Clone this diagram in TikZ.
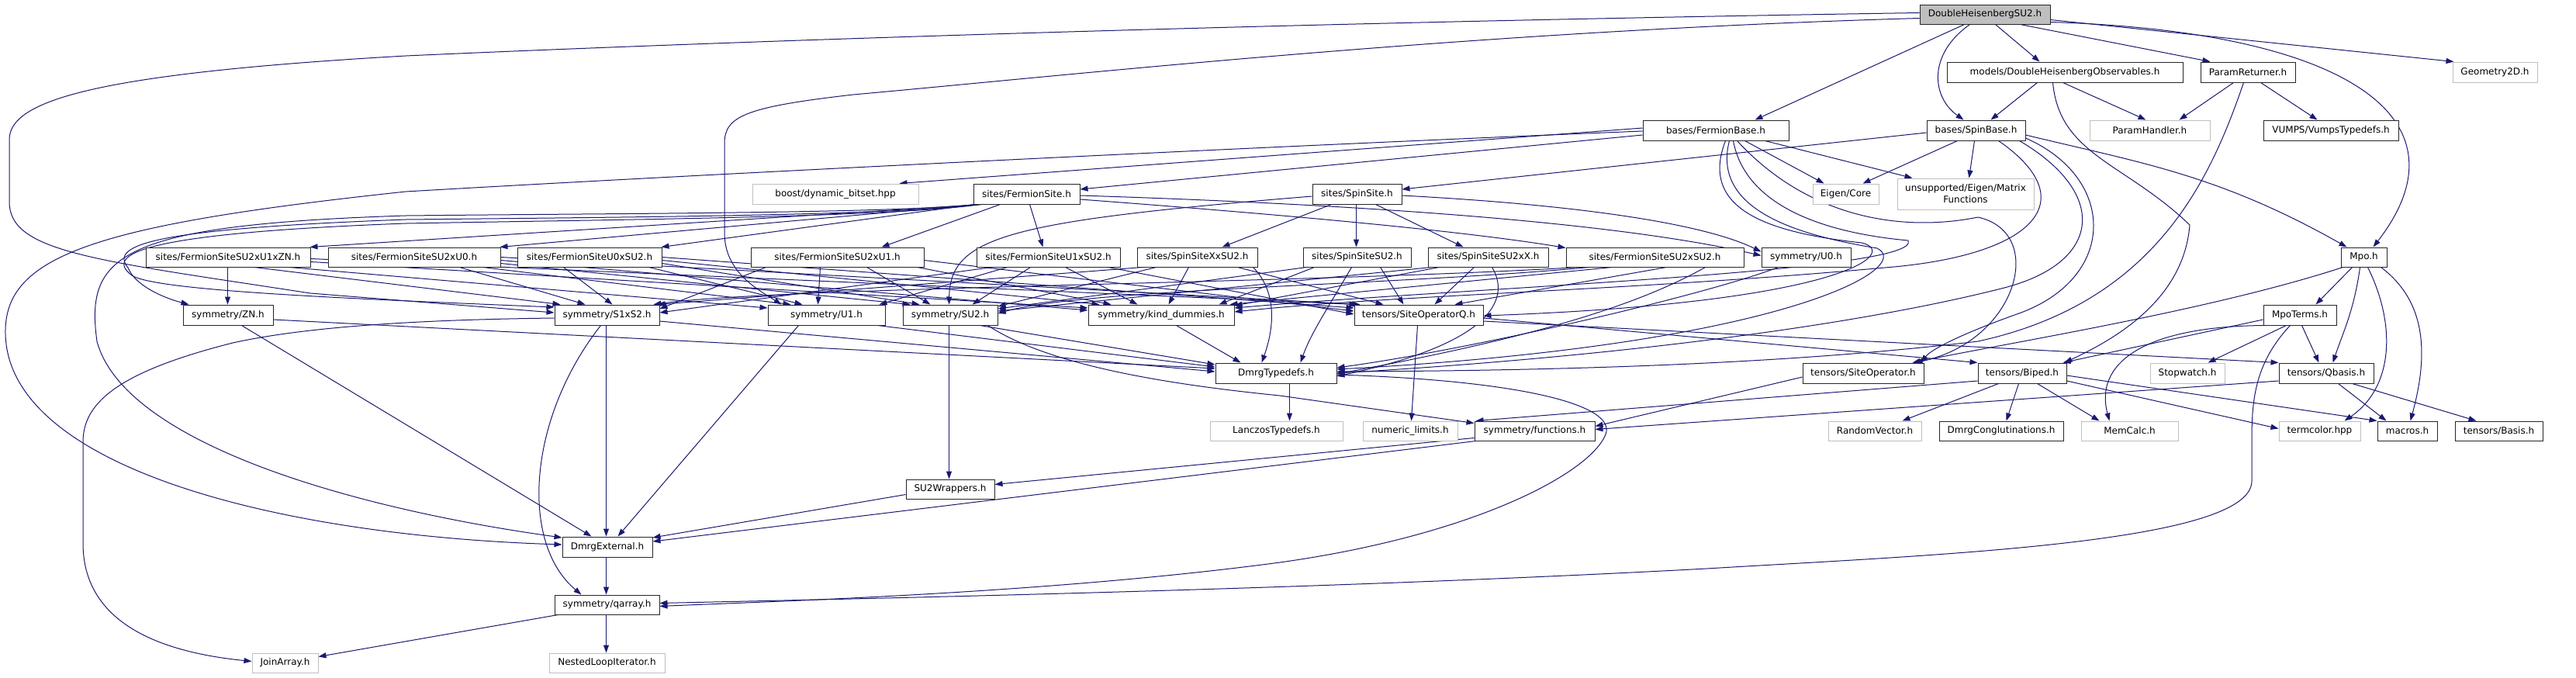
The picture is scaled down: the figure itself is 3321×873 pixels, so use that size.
\documentclass[tikz,border=0pt]{standalone}
\usepackage{fontspec}
\setmainfont{DejaVu Sans}
\usetikzlibrary{arrows.meta}
\definecolor{edgec}{HTML}{191970}
\definecolor{rootg}{HTML}{BFBFBF}
\definecolor{lightb}{HTML}{BFBFBF}
\newcommand{\nfont}{\fontsize{12}{15}\selectfont}
\newcommand{\bx}[7]{%
 \pgfmathsetmacro{\bxw}{#4-#3}%
 \pgfmathsetmacro{\bxh}{#6-#5}%
 \pgfmathsetmacro{\bxcx}{(#3+#4)/2}%
 \pgfmathsetmacro{\bxcy}{(#5+#6)/2}%
 \node[#1, minimum width=\bxw pt, minimum height=\bxh pt] (#2) at (\bxcx,\bxcy) {#7};}
\pgfdeclarelayer{bg}
\pgfsetlayers{bg,main}
\begin{document}
\begin{tikzpicture}[x=1pt,y=-1pt,
  nb/.style={draw=black!85, line width=1pt, fill=white, inner sep=0pt, font=\nfont, align=center, text=black},
  ng/.style={nb, draw=lightb},
  nr/.style={nb, fill=rootg},
  edg/.style={draw=edgec, line width=1pt, -{Triangle[length=10pt,width=7pt]}}]
\begin{pgfonlayer}{bg}
\fill[white] (0,0) rectangle (3321,873);
\end{pgfonlayer}
\useasboundingbox (0,0) rectangle (3321,873);
% row 0
\bx{nr}{D}{2475}{2643}{6}{31}{DoubleHeisenbergSU2.h}
% row 1
\bx{nb}{Obs}{2510}{2814}{80}{106}{models/DoubleHeisenbergObservables.h}
\bx{nb}{PR}{2837}{2959}{80}{106}{ParamReturner.h}
\bx{ng}{G2D}{3162}{3271}{80}{106}{Geometry2D.h}
% row 2
\bx{nb}{FB}{2118}{2306}{155}{181}{bases/FermionBase.h}
\bx{nb}{SB}{2484}{2611}{155}{181}{bases/SpinBase.h}
\bx{ng}{PH}{2694}{2849}{155}{181}{ParamHandler.h}
\bx{nb}{VT}{2918}{3092}{155}{181}{VUMPS/VumpsTypedefs.h}
% row 3
\bx{ng}{boost}{970}{1184}{237}{263}{boost/dynamic\_bitset.hpp}
\bx{nb}{FS}{1255}{1392}{237}{263}{sites/FermionSite.h}
\bx{nb}{SS}{1692}{1807}{237}{263}{sites/SpinSite.h}
\bx{ng}{EC}{2337}{2422}{237}{263}{Eigen/Core}
\bx{ng}{UEM}{2446}{2622}{230}{270}{unsupported/Eigen/Matrix\\Functions}
% row 4
\bx{nb}{A1}{188}{400}{319}{344}{sites/FermionSiteSU2xU1xZN.h}
\bx{nb}{A2}{423}{645}{319}{344}{sites/FermionSiteSU2xU0.h}
\bx{nb}{A3}{667}{853}{319}{344}{sites/FermionSiteU0xSU2.h}
\bx{nb}{A4}{968}{1191}{319}{344}{sites/FermionSiteSU2xU1.h}
\bx{nb}{A5}{1259}{1444}{319}{344}{sites/FermionSiteU1xSU2.h}
\bx{nb}{B1}{1466}{1621}{319}{344}{sites/SpinSiteXxSU2.h}
\bx{nb}{B2}{1680}{1819}{319}{344}{sites/SpinSiteSU2.h}
\bx{nb}{B3}{1841}{1996}{319}{344}{sites/SpinSiteSU2xX.h}
\bx{nb}{A6}{2019}{2248}{319}{344}{sites/FermionSiteSU2xSU2.h}
\bx{nb}{U0}{2271}{2386}{319}{344}{symmetry/U0.h}
\bx{nb}{Mpo}{3018}{3077}{319}{344}{Mpo.h}
% row 5
\bx{nb}{ZN}{236}{352}{393}{419}{symmetry/ZN.h}
\bx{nb}{S1S2}{715}{850}{393}{419}{symmetry/S1xS2.h}
\bx{nb}{U1}{990}{1141}{393}{419}{symmetry/U1.h}
\bx{nb}{SU2}{1164}{1286}{393}{419}{symmetry/SU2.h}
\bx{nb}{KD}{1403}{1591}{393}{419}{symmetry/kind\_dummies.h}
\bx{nb}{SOQ}{1746}{1912}{393}{419}{tensors/SiteOperatorQ.h}
\bx{nb}{MT}{2918}{3012}{393}{419}{MpoTerms.h}
% row 6
\bx{nb}{DT}{1567}{1723}{468}{494}{DmrgTypedefs.h}
\bx{nb}{SO}{2324}{2480}{468}{494}{tensors/SiteOperator.h}
\bx{nb}{BP}{2550}{2664}{468}{494}{tensors/Biped.h}
\bx{ng}{SW}{2772}{2868}{468}{494}{Stopwatch.h}
\bx{nb}{QB}{2938}{3060}{468}{494}{tensors/Qbasis.h}
% row 7
\bx{ng}{LT}{1560}{1731}{543}{568}{LanczosTypedefs.h}
\bx{ng}{NL}{1757}{1879}{543}{568}{numeric\_limits.h}
\bx{nb}{FN}{1901}{2056}{543}{568}{symmetry/functions.h}
\bx{ng}{RV}{2357}{2477}{543}{568}{RandomVector.h}
\bx{nb}{DC}{2500}{2660}{543}{568}{DmrgConglutinations.h}
\bx{ng}{MC}{2683}{2808}{543}{568}{MemCalc.h}
\bx{ng}{TC}{2938}{3043}{543}{568}{termcolor.hpp}
\bx{nb}{MA}{3065}{3142}{543}{568}{macros.h}
\bx{nb}{BA}{3165}{3278}{543}{568}{tensors/Basis.h}
% lower rows
\bx{nb}{SW2}{1168}{1282}{618}{643}{SU2Wrappers.h}
\bx{nb}{DE}{725}{841}{692}{718}{DmrgExternal.h}
\bx{nb}{QA}{715}{850}{767}{792}{symmetry/qarray.h}
\bx{ng}{JA}{325}{410}{842}{867}{JoinArray.h}
\bx{ng}{NLI}{708}{857}{842}{867}{NestedLoopIterator.h}

\begin{pgfonlayer}{bg}
% ---- D
\draw[edg] ([xshift=98pt]D.south west) -- ([xshift=120pt]Obs.north west);
\draw[edg] ([xshift=65pt]D.south west) .. controls (2485,70) and (2490,125) .. ([xshift=48pt]SB.north west);
\draw[edg] ([xshift=58pt]D.south west) -- ([xshift=145pt]FB.north west);
\draw[edg] ([xshift=130pt]D.south west) -- ([xshift=13pt]PR.north west);
\draw[edg] ([yshift=-7pt]D.east) -- ([xshift=2pt]G2D.north west);
\draw[edg] ([yshift=-10pt]D.east) .. controls (3020,40) and (3190,150) .. ([xshift=42pt]Mpo.north west);
\draw[edg] ([yshift=2pt]D.west) .. controls (1600,30) and (900,55) .. (523,72) .. controls (120,95) and (12,130) .. (12,180) -- (12,260) .. controls (12,325) and (120,335) .. (400,378) -- ([yshift=3pt]S1S2.west);
\draw[edg] ([yshift=-5pt]D.west) .. controls (1900,40) and (1400,95) .. (1100,122) .. controls (960,138) and (934,150) .. (934,185) -- (934,300) .. controls (934,350) and (975,372) .. ([xshift=18pt]U1.north west);
% ---- Obs
\draw[edg] ([xshift=117pt]Obs.south west) -- ([xshift=83pt]SB.north west);
\draw[edg] ([xshift=150pt]Obs.south west) -- ([xshift=73pt]PH.north west);
\draw[edg] ([xshift=137pt]Obs.south west) .. controls (2655,200) and (2740,210) .. (2823,290) .. controls (2815,390) and (2720,440) .. ([xshift=-3pt]BP.north east);
% ---- PR
\draw[edg] ([xshift=43pt]PR.south west) -- ([xshift=116pt]PH.north west);
\draw[edg] ([xshift=78pt]PR.south west) -- ([xshift=70pt]VT.north west);
\draw[edg] ([xshift=56pt]PR.south west) .. controls (2850,230) and (2780,390) .. (2550,440) .. controls (2300,470) and (2000,478) .. ([yshift=2pt]DT.east);
% ---- FB
\draw[edg] ([yshift=3pt]FB.west) -- ([xshift=190pt]boost.north west);
\draw[edg] ([yshift=-6pt]FB.west) -- ([yshift=6pt]FS.east);
\draw[edg] ([xshift=132pt]FB.south west) -- ([xshift=15pt]EC.north west);
\draw[edg] ([xshift=158pt]FB.south west) -- ([xshift=20pt]UEM.north west);
\draw[edg] ([yshift=-1pt]FB.west) .. controls (1600,190) and (900,225) .. (523,247) .. controls (120,290) and (5,330) .. (7,430) .. controls (10,600) and (350,690) .. ([yshift=3pt]DE.west);
\draw[edg] ([xshift=107pt]FB.south west) .. controls (2190,270) and (2280,300) .. (2400,313) .. controls (2450,325) and (2380,390) .. ([yshift=-1pt]SOQ.east);
\draw[edg] ([xshift=112pt]FB.south west) .. controls (2205,275) and (2330,305) .. (2420,320) .. controls (2470,345) and (2300,445) .. ([yshift=5pt]DT.east);
\draw[edg] ([xshift=117pt]FB.south west) .. controls (2250,265) and (2350,300) .. (2460,310) .. controls (2480,350) and (1900,370) .. ([yshift=9pt]KD.east);
\draw[edg] ([xshift=122pt]FB.south west) .. controls (2330,280) and (2450,300) .. (2550,280) .. controls (2640,300) and (2600,440) .. ([xshift=-12pt]SO.north east);
% ---- SB
\draw[edg] ([yshift=-3pt]SB.west) -- ([yshift=6pt]SS.east);
\draw[edg] ([xshift=40pt]SB.south west) -- ([xshift=65pt]EC.north west);
\draw[edg] ([xshift=62pt]SB.south west) -- ([xshift=93pt]UEM.north west);
\draw[edg] ([yshift=-6pt]SB.east) .. controls (2760,210) and (2860,225) .. ([xshift=8pt]Mpo.north west);
\draw[edg] ([xshift=93pt]SB.south west) .. controls (2690,260) and (2620,330) .. (2430,345) .. controls (2100,375) and (1800,380) .. ([yshift=4pt]KD.east);
\draw[edg] ([xshift=120pt]SB.south west) .. controls (2720,250) and (2710,340) .. (2580,372) .. controls (2350,430) and (2000,465) .. (DT.east);
\draw[edg] ([yshift=-10pt]SB.east) .. controls (2730,230) and (2730,360) .. (2600,405) .. controls (2530,430) and (2490,450) .. ([xshift=-4pt]SO.north east);
% ---- FS
\draw[edg] ([xshift=12pt]FS.south west) -- ([xshift=-1pt]A1.north east);
\draw[edg] ([xshift=6pt]FS.south west) -- ([xshift=-1pt]A2.north east);
\draw[edg] ([xshift=2pt]FS.south west) -- ([xshift=-1pt]A3.north east);
\draw[edg] ([xshift=35pt]FS.south west) -- ([xshift=169pt]A4.north west);
\draw[edg] ([xshift=73pt]FS.south west) -- ([xshift=86pt]A5.north west);
\draw[edg] ([yshift=-7pt]FS.east) .. controls (1700,280) and (1900,300) .. ([yshift=-1pt]A6.north west);
\draw[edg] ([yshift=-2pt]FS.east) .. controls (1800,265) and (2100,290) .. ([yshift=2pt]U0.west);
\draw[edg] ([xshift=4pt]FS.south west) .. controls (1150,275) and (800,275) .. (523,278) .. controls (150,290) and (110,330) .. (125,440) .. controls (160,570) and (450,655) .. ([yshift=12pt]DE.west);
\draw[edg] ([xshift=8pt]FS.south west) .. controls (1150,278) and (800,280) .. (523,283) .. controls (200,295) and (140,315) .. (165,345) .. controls (175,370) and (215,385) .. ([xshift=8pt]ZN.north west);
\draw[edg] ([xshift=10pt]FS.south west) .. controls (1150,280) and (800,283) .. (523,288) .. controls (200,300) and (130,325) .. (170,355) .. controls (200,375) and (450,385) .. ([yshift=10pt]S1S2.west);
% ---- SS
\draw[edg] ([xshift=57pt]SS.south west) -- ([xshift=69pt]B2.north west);
\draw[edg] ([xshift=82pt]SS.south west) -- ([xshift=46pt]B3.north west);
\draw[edg] ([xshift=25pt]SS.south west) -- ([xshift=110pt]B1.north west);
\draw[edg] ([yshift=-3pt]SS.west) .. controls (1300,285) and (1225,305) .. ([xshift=60pt]SU2.north west);
\draw[edg] ([yshift=-2pt]SS.east) .. controls (2050,265) and (2200,290) .. ([yshift=7pt]U0.west);
% ---- A1
\draw[edg] ([xshift=106pt]A1.south west) -- ([xshift=58pt]ZN.north west);
\draw[edg] ([xshift=140pt]A1.south west) -- ([xshift=8pt]S1S2.north west);
\draw[edg] ([xshift=185pt]A1.south west) -- ([yshift=9pt]U1.west);
\draw[edg] ([yshift=-6pt]A1.east) -- ([yshift=9pt]KD.west);
\draw[edg] ([yshift=-2pt]A1.east) -- ([xshift=4pt]SOQ.north west);
% ---- A2
\draw[edg] ([xshift=170pt]A2.south west) -- ([xshift=40pt]S1S2.north west);
\draw[edg] ([xshift=200pt]A2.south west) -- ([xshift=30pt]U1.north west);
\draw[edg] ([yshift=-8pt]A2.east) -- ([xshift=10pt]SU2.north west);
\draw[edg] ([yshift=-4pt]A2.east) -- ([yshift=6pt]KD.west);
\draw[edg] (A2.east) -- ([xshift=8pt]SOQ.north west);
% ---- A3
\draw[edg] ([xshift=60pt]A3.south west) -- ([xshift=75pt]S1S2.north west);
\draw[edg] ([xshift=170pt]A3.south west) -- ([xshift=45pt]U1.north west);
\draw[edg] ([yshift=-8pt]A3.east) -- ([xshift=22pt]SU2.north west);
\draw[edg] ([yshift=-4pt]A3.east) -- ([xshift=15pt]KD.north west);
\draw[edg] (A3.east) -- ([yshift=9pt]SOQ.west);
% ---- A4
\draw[edg] ([xshift=20pt]A4.south west) -- ([yshift=8pt]S1S2.east);
\draw[edg] ([xshift=90pt]A4.south west) -- ([xshift=65pt]U1.north west);
\draw[edg] ([xshift=150pt]A4.south west) -- ([xshift=36pt]SU2.north west);
\draw[edg] ([xshift=215pt]A4.south west) -- ([xshift=30pt]KD.north west);
\draw[edg] ([yshift=-4pt]A4.east) -- ([yshift=5pt]SOQ.west);
% ---- A5
\draw[edg] ([xshift=20pt]A5.south west) -- ([yshift=3pt]S1S2.east);
\draw[edg] ([xshift=40pt]A5.south west) -- ([xshift=-8pt]U1.north east);
\draw[edg] ([xshift=70pt]A5.south west) -- ([xshift=90pt]SU2.north west);
\draw[edg] ([xshift=115pt]A5.south west) -- ([xshift=64pt]KD.north west);
\draw[edg] ([xshift=170pt]A5.south west) -- ([yshift=1pt]SOQ.west);
% ---- B1
\draw[edg] ([xshift=8pt]B1.south west) -- ([xshift=-3pt]S1S2.north east);
\draw[edg] ([xshift=25pt]B1.south west) -- ([yshift=11pt]SU2.east);
\draw[edg] ([xshift=67pt]B1.south west) -- ([xshift=104pt]KD.north west);
\draw[edg] ([xshift=130pt]B1.south west) -- ([xshift=38pt]SOQ.north west);
\draw[edg] ([xshift=150pt]B1.south west) .. controls (1650,380) and (1640,430) .. ([xshift=60pt]DT.north west);
% ---- B2
\draw[edg] ([xshift=5pt]B2.south west) -- ([yshift=8pt]SU2.east);
\draw[edg] ([xshift=15pt]B2.south west) -- ([xshift=-20pt]KD.north east);
\draw[edg] ([xshift=100pt]B2.south west) -- ([xshift=64pt]SOQ.north west);
\draw[edg] ([xshift=63pt]B2.south west) .. controls (1710,400) and (1690,430) .. ([xshift=110pt]DT.north west);
% ---- B3
\draw[edg] ([xshift=5pt]B3.south west) -- ([yshift=5pt]SU2.east);
\draw[edg] ([xshift=15pt]B3.south west) -- ([yshift=12pt]KD.east);
\draw[edg] ([xshift=60pt]B3.south west) -- ([xshift=104pt]SOQ.north west);
\draw[edg] ([xshift=83pt]B3.south west) .. controls (1945,380) and (1935,440) .. ([yshift=-4pt]DT.east);
% ---- A6
\draw[edg] ([xshift=15pt]A6.south west) .. controls (1700,365) and (1000,370) .. ([xshift=-8pt]S1S2.north east);
\draw[edg] ([xshift=30pt]A6.south west) .. controls (1800,368) and (1400,372) .. ([yshift=2pt]SU2.east);
\draw[edg] ([xshift=60pt]A6.south west) -- ([xshift=-6pt]KD.north east);
\draw[edg] ([xshift=130pt]A6.south west) -- ([xshift=130pt]SOQ.north west);
\draw[edg] ([xshift=180pt]A6.south west) .. controls (2100,400) and (1950,440) .. ([yshift=-1pt]DT.east);
% ---- U0
\draw[edg] ([xshift=22pt]U0.south west) .. controls (2200,380) and (1900,450) .. ([yshift=7pt]DT.east);
% ---- Mpo
\draw[edg] ([xshift=15pt]Mpo.south west) -- ([xshift=68pt]MT.north west);
\draw[edg] ([xshift=25pt]Mpo.south west) .. controls (3035,400) and (3020,430) .. ([xshift=70pt]QB.north west);
\draw[edg] ([xshift=35pt]Mpo.south west) .. controls (3090,420) and (3085,500) .. ([xshift=85pt]TC.north west);
\draw[edg] ([xshift=52pt]Mpo.south west) .. controls (3130,390) and (3130,460) .. ([xshift=43pt]MA.north west);
\draw[edg] ([xshift=3pt]Mpo.south west) .. controls (2850,400) and (2600,440) .. ([xshift=-15pt]SO.north east);
% ---- MT
\draw[edg] ([xshift=30pt]MT.south west) -- ([xshift=75pt]SW.north west);
\draw[edg] ([xshift=50pt]MT.south west) -- ([xshift=52pt]QB.north west);
\draw[edg] ([xshift=5pt]MT.south west) .. controls (2760,420) and (2700,470) .. ([xshift=37pt]MC.north west);
\draw[edg] ([yshift=-6pt]MT.west) -- ([xshift=-5pt]BP.north east);
\draw[edg] ([xshift=35pt]MT.south west) .. controls (2905,470) and (2903,520) .. (2903,570) -- (2903,620) .. controls (2903,700) and (2500,715) .. (2200,733) .. controls (1700,760) and (1100,772) .. ([yshift=2pt]QA.east);
% ---- symmetry row
\draw[edg] ([yshift=-6pt]ZN.east) -- ([yshift=6pt]DT.west);
\draw[edg] ([xshift=76pt]ZN.south west) -- ([xshift=38pt]DE.north west);
\draw[edg] ([xshift=67pt]S1S2.south west) -- ([xshift=57pt]DE.north west);
\draw[edg] ([xshift=60pt]S1S2.south west) .. controls (680,540) and (670,700) .. ([xshift=35pt]QA.north west);
\draw[edg] ([yshift=-4pt]S1S2.west) .. controls (550,412) and (400,420) .. (300,442) .. controls (150,480) and (107,520) .. (107,570) -- (107,700) .. controls (107,800) and (200,840) .. ([yshift=2pt]JA.west);
\draw[edg] ([yshift=-8pt]S1S2.east) -- ([yshift=2pt]DT.west);
\draw[edg] ([xshift=40pt]U1.south west) -- ([xshift=72pt]DE.north west);
\draw[edg] ([xshift=-10pt]U1.south east) -- ([yshift=8pt]DT.west);
\draw[edg] ([xshift=60pt]SU2.south west) -- ([xshift=56pt]SW2.north west);
\draw[edg] ([xshift=100pt]SU2.south west) -- ([yshift=11pt]DT.west);
\draw[edg] ([xshift=110pt]SU2.south west) .. controls (1350,470) and (1500,495) .. (1650,510) -- ([yshift=10pt]FN.west);
\draw[edg] ([xshift=114pt]KD.south west) -- ([xshift=33pt]DT.north west);
\draw[edg] ([xshift=82pt]SOQ.south west) -- ([xshift=63pt]NL.north west);
\draw[edg] ([yshift=-4pt]SOQ.east) -- (BP.north west);
\draw[edg] ([yshift=-8pt]SOQ.east) -- (QB.north west);
% ---- row 6
\draw[edg] ([xshift=96pt]DT.south west) -- ([xshift=103pt]LT.north west);
\draw[edg] ([yshift=-2pt]DT.east) .. controls (1950,490) and (2085,520) .. (2070,560) .. controls (2050,610) and (1900,690) .. (1650,725) .. controls (1350,765) and (1000,775) .. ([yshift=-2pt]QA.east);
\draw[edg] ([yshift=-5pt]SO.west) -- ([yshift=6pt]FN.east);
\draw[edg] ([xshift=27pt]BP.south west) -- ([xshift=96pt]RV.north west);
\draw[edg] ([xshift=53pt]BP.south west) -- ([xshift=87pt]DC.north west);
\draw[edg] ([xshift=77pt]BP.south west) -- ([xshift=24pt]MC.north west);
\draw[edg] ([yshift=-10pt]BP.east) -- ([yshift=3pt]TC.west);
\draw[edg] ([yshift=-3pt]BP.east) -- (MA.north west);
\draw[edg] ([yshift=-10pt]BP.west) -- ([xshift=2pt]FN.north west);
\draw[edg] ([xshift=77pt]QB.south west) -- ([xshift=12pt]MA.north west);
\draw[edg] ([xshift=95pt]QB.south west) -- ([xshift=28pt]BA.north west);
\draw[edg] ([yshift=-10pt]QB.west) -- ([yshift=2pt]FN.east);
% ---- lower
\draw[edg] ([yshift=-9pt]FN.west) -- ([yshift=6pt]SW2.east);
\draw[edg] ([xshift=2pt]FN.south west) -- ([yshift=7pt]DE.east);
\draw[edg] ([yshift=-7pt]SW2.west) -- ([yshift=12pt]DE.east);
\draw[edg] ([xshift=57pt]DE.south west) -- ([xshift=67pt]QA.north west);
\draw[edg] ([xshift=67pt]QA.south west) -- ([xshift=74pt]NLI.north west);
\draw[edg] ([xshift=5pt]QA.south west) -- ([yshift=8pt]JA.east);
\end{pgfonlayer}
\end{tikzpicture}
\end{document}
